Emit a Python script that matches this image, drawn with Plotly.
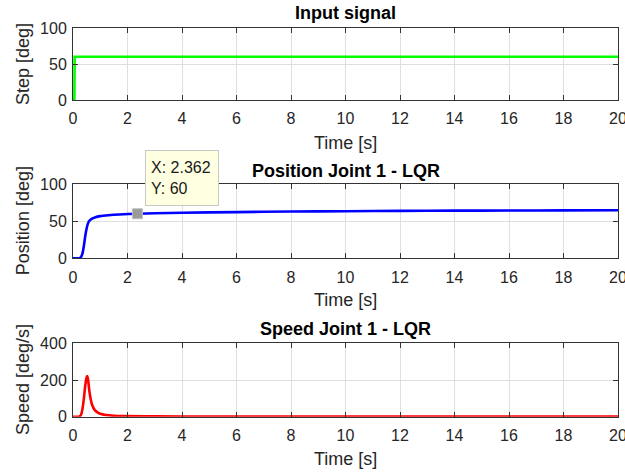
import plotly.graph_objects as go

# ---- data ----
step_time = [0, 0.05, 0.06, 20]
step_value = [0, 0, 60, 60]

pos_time = [0, 0.25, 0.3, 0.35, 0.4, 0.45, 0.5, 0.55, 0.6, 0.7, 0.8, 1.0, 1.3, 1.7,
            2.362, 3, 4, 6, 8, 10, 12, 14, 16, 18, 20]
pos_value = [0, 0.3, 2, 7, 17, 30, 40, 47, 50.5, 53.5, 55, 56.8, 58, 59,
             60, 60.6, 61.3, 62.2, 62.9, 63.4, 63.8, 64.1, 64.3, 64.5, 64.6]

speed_time = [0, 0.2, 0.25, 0.3, 0.35, 0.4, 0.45, 0.5, 0.52, 0.55, 0.6, 0.65, 0.7,
              0.8, 0.9, 1.0, 1.2, 1.5, 2, 3, 5, 10, 20]
speed_value = [0, 0, 2, 12, 45, 100, 170, 215, 222, 205, 140, 95, 65,
               36, 24, 16, 9, 5, 3, 1.5, 0.8, 0.4, 0.2]

tip_x = [2.362]
tip_y = [60]

x_ticks = list(range(0, 21, 2))
y_ticks_deg = [0, 50, 100]
y_ticks_speed = [0, 200, 400]

titles = ["Input signal", "Position Joint 1 - LQR", "Speed Joint 1 - LQR"]
y_titles = ["Step [deg]", "Position [deg]", "Speed [deg/s]"]
x_title = "Time [s]"

# ---- layout geometry (pixels) ----
W, H = 625, 474
ML, MR = 73, 7
rows_px = [(28, 100), (184, 258.3), (343.3, 416.7)]
title_px = [13, 171, 329]
xtitle_px = [143, 300, 459]
ytitle_x_px = 23

def py(px):
    return 1 - px / H

FONT = "Liberation Sans, Arial, Helvetica, sans-serif"
AX = "#333333"
GRID = "#dfdfdf"
TXT = "#262626"

fig = go.Figure()
fig.add_trace(go.Scatter(x=step_time, y=step_value, mode="lines",
                         line=dict(color="#00ff00", width=2.6), xaxis="x", yaxis="y",
                         showlegend=False, hoverinfo="skip"))
fig.add_trace(go.Scatter(x=pos_time, y=pos_value, mode="lines",
                         line=dict(color="#0000ff", width=2.6, shape="spline", smoothing=0.6),
                         xaxis="x2", yaxis="y2", showlegend=False, hoverinfo="skip"))
fig.add_trace(go.Scatter(x=tip_x, y=tip_y, mode="markers",
                         marker=dict(symbol="square", size=10, color="#9a9a9a",
                                     line=dict(color="#c0c0c0", width=1)),
                         xaxis="x2", yaxis="y2", showlegend=False, hoverinfo="skip"))
fig.add_trace(go.Scatter(x=speed_time, y=speed_value, mode="lines",
                         line=dict(color="#ff0000", width=2.6, shape="spline", smoothing=0.6),
                         xaxis="x3", yaxis="y3", showlegend=False, hoverinfo="skip"))

layout = dict(width=W, height=H, margin=dict(l=ML, r=MR, t=0, b=0, autoexpand=False),
              paper_bgcolor="white", plot_bgcolor="white",
              font=dict(family=FONT, color=TXT, size=16), showlegend=False)

yticks = [y_ticks_deg, y_ticks_deg, y_ticks_speed]
for i in range(3):
    sfx = "" if i == 0 else str(i + 1)
    top, bot = rows_px[i]
    layout["xaxis" + sfx] = dict(
        domain=[0, 1], range=[0, 20], anchor="y" + sfx, automargin=False,
        tickvals=x_ticks, ticks="inside", ticklen=5, tickcolor=AX,
        showline=True, linecolor=AX, linewidth=1, mirror="ticks",
        showgrid=True, gridcolor=GRID, gridwidth=1, zeroline=False,
        tickfont=dict(size=16, color=TXT), ticklabelstandoff=4,
        ticklabeloverflow="allow")
    layout["yaxis" + sfx] = dict(
        domain=[py(bot), py(top)], range=[yticks[i][0], yticks[i][-1]],
        anchor="x" + sfx, automargin=False, tickvals=yticks[i], ticks="inside", ticklen=5,
        tickcolor=AX, showline=True, linecolor=AX, linewidth=1, mirror="ticks",
        showgrid=True, gridcolor=GRID, gridwidth=1, zeroline=False,
        tickfont=dict(size=16, color=TXT), ticklabelstandoff=2,
        ticklabeloverflow="allow")

annotations = []
for i in range(3):
    annotations.append(dict(text="<b>" + titles[i] + "</b>", xref="paper", yref="paper",
                            x=0.5, y=py(title_px[i]), xanchor="center", yanchor="middle",
                            showarrow=False, font=dict(size=18, color="#000000")))
    annotations.append(dict(text=x_title, xref="paper", yref="paper",
                            x=0.5, y=py(xtitle_px[i]), xanchor="center", yanchor="middle",
                            showarrow=False, font=dict(size=18, color=TXT)))
    top, bot = rows_px[i]
    annotations.append(dict(text=y_titles[i], xref="paper", yref="paper",
                            x=(ytitle_x_px - ML) / (W - ML - MR), y=py((top + bot) / 2),
                            xanchor="center", yanchor="middle", textangle=-90,
                            showarrow=False, font=dict(size=18, color=TXT)))

annotations.append(dict(text="X: %.3f<br>Y: %g" % (tip_x[0], tip_y[0]), xref="x2", yref="y2",
                        x=tip_x[0], y=tip_y[0], xanchor="left", yanchor="bottom",
                        xshift=8, yshift=8, showarrow=False, align="left",
                        width=62, height=44, borderpad=5,
                        bgcolor="#ffffe1", bordercolor="#c8c8c8", borderwidth=1,
                        font=dict(size=16, color="#1a1a1a")))
layout["annotations"] = annotations

fig.update_layout(**layout)
fig.write_html("out.html", config={"displayModeBar": False, "staticPlot": True},
               post_script="document.body.style.margin='0';document.body.style.overflow='hidden';")
